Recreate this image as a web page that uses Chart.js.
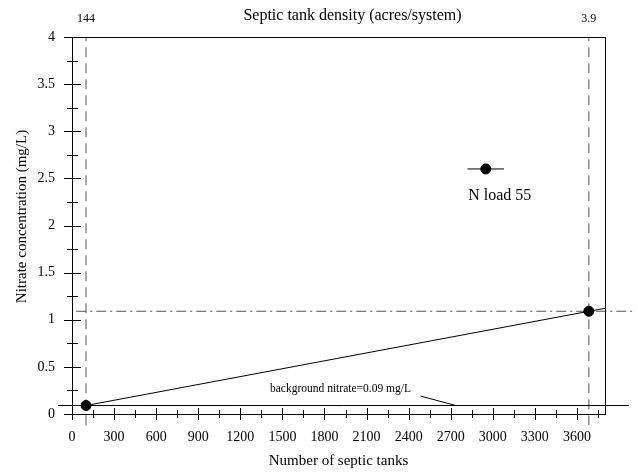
<!DOCTYPE html>
<html>
<head>
<meta charset="utf-8">
<script src="https://cdn.jsdelivr.net/npm/chart.js@4"></script>
<style>
  html, body { margin: 0; padding: 0; background: #fff; }
  #wrap { width: 638px; height: 474px; }
</style>
</head>
<body>
<div id="wrap"><canvas id="chart"></canvas></div>
<script>
// data
const tankCounts = [100, 3685, 3800]
const nitrate = [0.09, 1.09, 1.12]
const markerSizes = [5, 5, 0]

const backgroundNitrate = 0.09
const backgroundSpan = [-100, 3970]
const thresholdNitrate = 1.09
const thresholdSpan = [30, 4005]

const densityX = [100, 3685]
const densityLabels = ['144', '3.9']
const dashedSpan = [-0.12, 4]

const legendX = [2820, 2950, 3080]
const legendY = 2.6
const legendText = 'N load 55'
const legendTextPos = [3050, 2.32]

const leaderX = [2486, 2736]
const leaderY = [0.19, 0.09]
const backgroundText = 'background nitrate=0.09 mg/L'
const backgroundTextPos = [1914, 0.265]

const xMin = 0, xMax = 3800, xMinor = 150, xMajor = 300
const yMin = 0, yMax = 4, yMinor = 0.25, yMajor = 0.5

const FONT = "'Liberation Serif', 'DejaVu Serif', serif"
const pts = (xs, ys) => xs.map((x, i) => ({ x: x, y: Array.isArray(ys) ? ys[i] : ys }))

const refLine = (data, dash, color) => ({
    data: data,
    showLine: true,
    borderColor: color,
    borderWidth: 1,
    borderDash: dash,
    pointRadius: 0,
    clip: false
})

// frame, cross ticks and loose text
const decor = {
    id: 'decor',
    afterDraw(chart) {
        const ctx = chart.ctx
        const a = chart.chartArea
        const xs = chart.scales.x
        const ys = chart.scales.y
        ctx.save()
        ctx.strokeStyle = '#000'
        ctx.lineWidth = 1
        ctx.strokeRect(a.left + 0.5, a.top + 0.5, a.right - a.left, a.bottom - a.top)

        ctx.beginPath()
        for (let v = xMin; v <= xMax; v += xMinor) {
            const px = Math.round(xs.getPixelForValue(v)) + 0.5
            const len = v % xMajor === 0 ? 6 : 4
            ctx.moveTo(px, a.bottom - len)
            ctx.lineTo(px, a.bottom + len)
        }
        for (let v = yMin; v <= yMax + 1e-9; v += yMinor) {
            const py = Math.round(ys.getPixelForValue(v)) + 0.5
            const len = Math.abs(v / yMajor - Math.round(v / yMajor)) < 1e-6 ? 8 : 5
            ctx.moveTo(a.left - len, py)
            ctx.lineTo(a.left + len + 1, py)
        }
        ctx.stroke()

        ctx.fillStyle = '#000'
        ctx.textAlign = 'center'
        ctx.textBaseline = 'middle'
        ctx.font = '16px ' + FONT
        ctx.fillText('Septic tank density (acres/system)', (a.left + a.right) / 2 + 14, 16)

        ctx.font = '12px ' + FONT
        densityX.forEach((v, i) => ctx.fillText(densityLabels[i], xs.getPixelForValue(v), 19))

        ctx.font = '16px ' + FONT
        ctx.fillText(legendText, xs.getPixelForValue(legendTextPos[0]), ys.getPixelForValue(legendTextPos[1]))

        ctx.font = '11.5px ' + FONT
        ctx.fillText(backgroundText, xs.getPixelForValue(backgroundTextPos[0]), ys.getPixelForValue(backgroundTextPos[1]))

        // y axis title, sits a little above the middle in the original
        ctx.translate(22, (a.top + a.bottom) / 2 - 9)
        ctx.rotate(-Math.PI / 2)
        ctx.font = '15px ' + FONT
        ctx.fillText('Nitrate concentration (mg/L)', 0, 0)
        ctx.restore()
    }
}

new Chart(document.getElementById('chart'), {
    type: 'scatter',
    data: {
        datasets: [
            {
                data: pts(tankCounts, nitrate),
                showLine: true,
                borderColor: '#000',
                borderWidth: 1,
                pointRadius: markerSizes,
                pointBackgroundColor: '#000',
                pointBorderColor: '#000',
                clip: false
            },
            refLine(pts(backgroundSpan, backgroundNitrate), [], '#000'),
            refLine(pts(thresholdSpan, thresholdNitrate), [10, 4, 2, 4], '#555'),
            refLine(pts([densityX[0], densityX[0]], dashedSpan), [10, 6], '#555'),
            refLine(pts([densityX[1], densityX[1]], dashedSpan), [10, 6], '#555'),
            refLine(pts(leaderX, leaderY), [], '#000'),
            {
                data: pts(legendX, legendY),
                showLine: true,
                borderColor: '#000',
                borderWidth: 1,
                pointRadius: [0, 5, 0],
                pointBackgroundColor: '#000',
                pointBorderColor: '#000',
                clip: false
            }
        ]
    },
    options: {
        responsive: true,
        maintainAspectRatio: false,
        animation: false,
        events: [],
        layout: { padding: { top: 37, right: 33, left: 0, bottom: 0 } },
        plugins: {
            legend: { display: false },
            tooltip: { enabled: false }
        },
        scales: {
            x: {
                type: 'linear',
                min: xMin,
                max: xMax,
                afterFit: s => { s.height = 60 },
                grid: { display: false, drawTicks: false },
                border: { display: false },
                ticks: {
                    stepSize: xMinor,
                    autoSkip: false,
                    maxRotation: 0,
                    padding: 15,
                    color: '#000',
                    font: { family: FONT, size: 14 },
                    callback: v => v % xMajor === 0 && v < xMax ? String(v) : ''
                },
                title: {
                    display: true,
                    text: 'Number of septic tanks',
                    color: '#000',
                    font: { family: FONT, size: 15 },
                    padding: { top: 0, bottom: 4 }
                }
            },
            y: {
                type: 'linear',
                min: yMin,
                max: yMax,
                afterFit: s => { s.width = 72 },
                grid: { display: false, drawTicks: false },
                border: { display: false },
                ticks: {
                    stepSize: yMinor,
                    autoSkip: false,
                    padding: 17,
                    color: '#000',
                    font: { family: FONT, size: 14 },
                    callback: v => Math.abs(v / yMajor - Math.round(v / yMajor)) < 1e-6 ? String(v) : ''
                }
            }
        }
    },
    plugins: [decor]
})
</script>
</body>
</html>
